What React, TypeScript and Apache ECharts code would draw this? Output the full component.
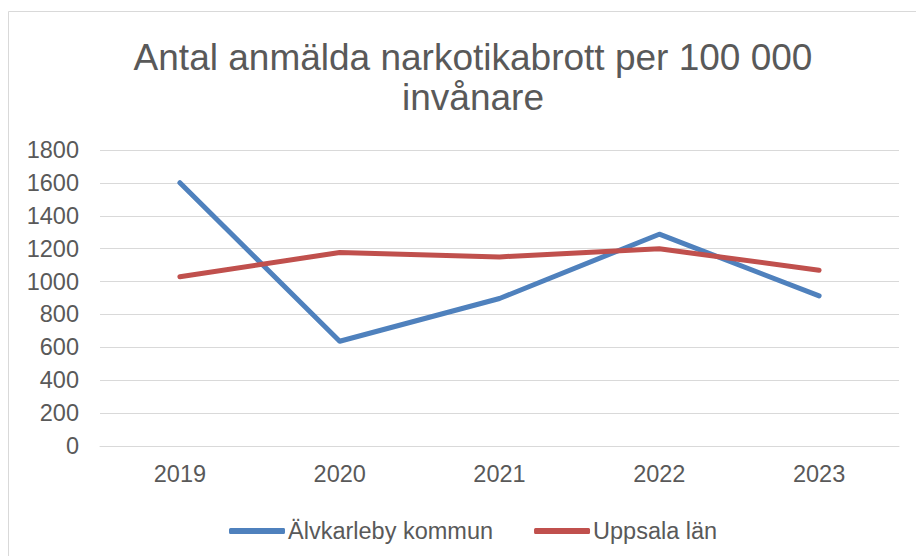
import React, { useEffect, useRef } from "react";
import * as echarts from "echarts";

const years = ["2019", "2020", "2021", "2022", "2023"];
const alvkarleby = [1601, 637, 897, 1288, 913];
const uppsala = [1029, 1177, 1150, 1199, 1069];
const seriesNames = ["Älvkarleby kommun", "Uppsala län"];
const titleText = "Antal anmälda narkotikabrott per 100 000\ninvånare";

const FONT = "'Liberation Sans', Arial, sans-serif";
const TEXT = "#595959";
const GRID = "#D9D9D9";

export default function App() {
  const ref = useRef<HTMLDivElement>(null);
  useEffect(() => {
    if (!ref.current) return;
    const chart = echarts.init(ref.current, null, { renderer: "svg" });
    chart.setOption({
      animation: false,
      backgroundColor: "#ffffff",
      textStyle: { fontFamily: FONT },
      title: {
        text: titleText,
        left: 468,
        top: 32,
        textAlign: "center",
        textStyle: {
          fontFamily: FONT,
          fontSize: 37,
          fontWeight: "normal",
          color: TEXT,
          lineHeight: 40,
        },
      },
      graphic: [
        {
          type: "rect",
          shape: { x: 8.5, y: 11.5, width: 1000, height: 1000 },
          style: { fill: "none", stroke: GRID, lineWidth: 1 },
          silent: true,
        },
      ],
      legend: {
        data: seriesNames,
        left: 224,
        top: 514,
        itemWidth: 56,
        itemHeight: 6,
        itemGap: 41,
        icon: "roundRect",
        textStyle: { fontFamily: FONT, fontSize: 23.5, color: TEXT, padding: [0, 0, 0, -2] },
      },
      grid: { left: 100, right: 17, top: 150, bottom: 110 },
      xAxis: {
        type: "category",
        data: years,
        boundaryGap: true,
        axisLine: { show: true, lineStyle: { color: GRID, width: 1 } },
        axisTick: { show: false },
        axisLabel: { fontFamily: FONT, fontSize: 23.5, color: TEXT, margin: 16 },
      },
      yAxis: {
        type: "value",
        min: 0,
        max: 1800,
        interval: 200,
        axisLine: { show: false },
        axisTick: { show: false },
        axisLabel: {
          fontFamily: FONT,
          fontSize: 23.5,
          color: TEXT,
          margin: 21,
          formatter: (v: number) => String(v),
        },
        splitLine: { lineStyle: { color: GRID, width: 1 } },
      },
      series: [
        {
          name: seriesNames[0],
          type: "line",
          data: alvkarleby,
          showSymbol: false,
          symbol: "none",
          color: "#4F81BD",
          lineStyle: { width: 5, cap: "round", join: "round", color: "#4F81BD" },
        },
        {
          name: seriesNames[1],
          type: "line",
          data: uppsala,
          showSymbol: false,
          symbol: "none",
          color: "#C0504D",
          lineStyle: { width: 5, cap: "round", join: "round", color: "#C0504D" },
        },
      ],
    });
    return () => chart.dispose();
  }, []);
  return (
    <div
      ref={ref}
      style={{ position: "absolute", left: 0, top: 0, width: 916, height: 556 }}
    />
  );
}
